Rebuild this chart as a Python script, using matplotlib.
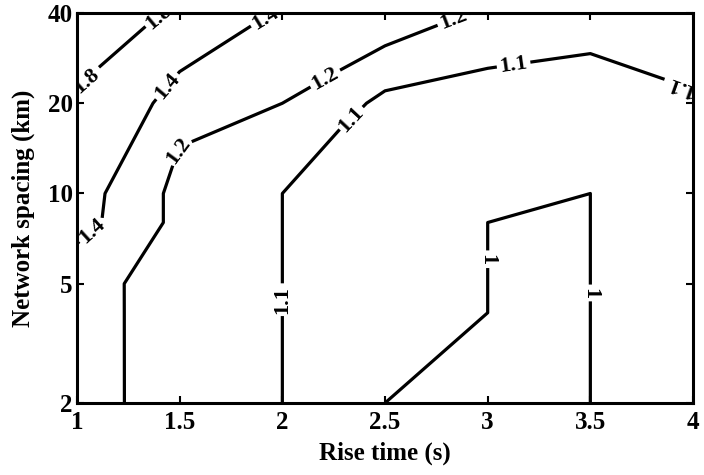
import numpy as np
import matplotlib.pyplot as plt
from matplotlib.ticker import NullLocator

plt.rcParams['font.family'] = 'Liberation Serif'
plt.rcParams['font.weight'] = 'bold'

# grid: rise time (s) x network spacing (km)
rise_time = [1.0, 1.5, 2.0, 2.5, 3.0, 3.5, 4.0]
spacing_km = [2, 4, 5, 8, 10, 20, 40]

# ratio values, one row per spacing
ratio_2km = [1.26, 1.13, 1.1, 1.0, 0.95, 1.0, 1.05]
ratio_4km = [1.27, 1.118, 1.1, 1.05, 1.0, 1.0, 1.05]
ratio_5km = [1.28, 1.106, 1.1, 1.05, 1.0, 1.0, 1.05]
ratio_8km = [1.48, 1.147, 1.1, 1.06, 1.0, 1.0, 1.05]
ratio_10km = [1.496, 1.144, 1.1, 1.07, 1.05, 1.0, 1.06]
ratio_20km = [1.75, 1.277, 1.2, 1.078, 1.064, 1.048, 1.094]
ratio_40km = [2.2, 1.724, 1.372, 1.298, 1.181, 1.16, 1.15]

levels = [1.0, 1.1, 1.2, 1.4, 1.8]

# where the contour labels go
label_pos = [(1.04, 23.9), (1.40, 38.5),
             (1.06, 7.7), (1.43, 23), (1.92, 38),
             (1.51, 13.7), (2.21, 24), (2.83, 38.5),
             (2.0, 4.4), (2.31, 18.3), (3.13, 25.8), (3.94, 23),
             (3.0, 6.0), (3.5, 4.65)]

Z = np.vstack([ratio_2km, ratio_4km, ratio_5km, ratio_8km,
               ratio_10km, ratio_20km, ratio_40km])

fig = plt.figure(figsize=(7.04, 4.75), dpi=100)
ax = fig.add_axes([0.1094, 0.1516, 0.875, 0.821])

cs = ax.contour(rise_time, spacing_km, Z, levels=levels,
                colors='k', linewidths=2.3)
ax.set_yscale('log')
ax.set_xlim(1, 4)
ax.set_ylim(2, 40)
labels = ax.clabel(cs, inline=True, fmt='%g', fontsize=16, manual=label_pos,
                   inline_spacing=3)

# labels follow the direction the contour is traced in
for t in labels:
    x, y = t.get_position()
    rot = t.get_rotation() % 360
    if abs(x - 2.0) < 0.05 and y < 10 and abs(rot - 270) < 5:
        t.set_rotation(90)
    if x > 3.8 and y > 15:
        t.set_rotation(rot + 180)

ax.set_xticks([1, 1.5, 2, 2.5, 3, 3.5, 4])
ax.set_xticklabels(['1', '1.5', '2', '2.5', '3', '3.5', '4'])
ax.set_yticks([2, 5, 10, 20, 40])
ax.set_yticklabels(['2', '5', '10', '20', '40'])
ax.yaxis.set_minor_locator(NullLocator())
ax.tick_params(direction='in', top=True, right=True, length=5, width=1.5,
               labelsize=18)
ax.tick_params(axis='x', pad=6)
ax.tick_params(axis='y', pad=3)
for sp in ax.spines.values():
    sp.set_linewidth(2.2)

ax.set_xlabel('Rise time (s)', fontsize=18, fontweight='bold')
ax.set_ylabel('Network spacing (km)', fontsize=18, fontweight='bold')
ax.xaxis.set_label_coords(0.5, -0.1)
ax.yaxis.set_label_coords(-0.068, 0.5)

fig.savefig('out.png', dpi=100)
